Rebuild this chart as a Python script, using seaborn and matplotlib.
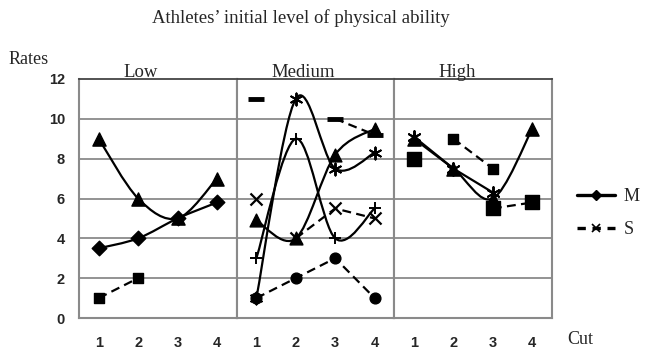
import numpy as np
import pandas as pd
import matplotlib
matplotlib.use("Agg")
import matplotlib.pyplot as plt
from matplotlib.path import Path
from matplotlib.patches import PathPatch
from matplotlib.lines import Line2D
import seaborn as sns

nan = np.nan

# ---------------- data ----------------
cuts = [1, 2, 3, 4]
panels = ["Low", "Medium", "High"]
y_ticks = [0, 2, 4, 6, 8, 10, 12]
legend_labels = ["M", "S"]

low_triangle = [9, 6, 5, 7]
low_M = [3.5, 4, 5, 5.8]
low_square = [1, 2, nan, nan]

med_dash = [11, nan, 10, 9.2]
med_star = [1, 11, 7.5, 8.3]
med_plus = [3, 9, 4, 5.5]
med_triangle = [4.9, 4, 8.2, 9.5]
med_S_point = [6, nan, nan, nan]
med_S = [nan, 4, 5.5, 5]
med_circle = [1, 2, 3, 1]

high_star = [9.1, 7.5, 6.3, nan]
high_triangle = [9, 7.5, 6, 9.5]
high_square_a = [8, nan, nan, nan]
high_square_b = [nan, 9, 7.5, nan]
high_square_c = [nan, nan, 5.5, 5.8]

ASTER = (6, 2, 0)

# (values, marker, marker size, line style, smooth, marker edge width)
series = {
    "Low": [
        (low_triangle, "^", 90, "-", True, 1),
        (low_M, "D", 55, "-", True, 1),
        (low_square, "s", 55, "--", False, 1),
    ],
    "Medium": [
        (med_circle, "o", 60, "--", False, 1),
        (med_star, ASTER, 75, "-", True, 1.4),
        (med_plus, "+", 75, "-", True, 1.4),
        (med_triangle, "^", 85, "-", True, 1),
        (med_S_point, "x", 75, "--", False, 1.6),
        (med_S, "x", 75, "--", False, 1.6),
        (med_dash, "_", 120, "--", False, 3.5),
    ],
    "High": [
        (high_star, ASTER, 85, "-", False, 1.4),
        (high_triangle, "^", 90, "-", True, 1),
        (high_square_a, "s", 95, "--", False, 1),
        (high_square_b, "s", 60, "--", False, 1),
        (high_square_c, "s", 115, "--", False, 1),
    ],
}

# ---------------- style ----------------
sns.set_theme(style="white")
plt.rcParams["font.family"] = ["Liberation Serif", "DejaVu Serif"]
GRID = "#8a8a8a"
LW = 1.6


def segments(xs, ys):
    segs, cur = [], []
    for x, y in zip(xs, ys):
        if np.isnan(y):
            if cur:
                segs.append(cur)
            cur = []
        else:
            cur.append((x, y))
    if cur:
        segs.append(cur)
    return segs


def smooth_path(pts):
    p = np.array(pts, dtype=float)
    n = len(p)
    verts = [p[0]]
    codes = [Path.MOVETO]
    for i in range(n - 1):
        pm = p[i - 1] if i > 0 else p[i]
        pp = p[i + 2] if i + 2 < n else p[i + 1]
        c1 = p[i] + (p[i + 1] - pm) / 6.0
        c2 = p[i + 1] - (pp - p[i]) / 6.0
        verts += [c1, c2, p[i + 1]]
        codes += [Path.CURVE4] * 3
    return Path(verts, codes)


fig = plt.figure(figsize=(6.46, 3.51), dpi=100)
axes = fig.subplots(1, 3, sharey=True)
fig.subplots_adjust(left=79 / 646, right=552 / 646, top=1 - 79 / 351,
                    bottom=1 - 318 / 351, wspace=0)

label_x = {"Low": 0.39, "Medium": 0.42, "High": 0.40}

for ax, panel in zip(axes, panels):
    ax.set_xlim(0.5, 4.5)
    ax.set_ylim(0, 12)
    for yv in y_ticks[1:-1]:
        ax.axhline(yv, color=GRID, lw=1.3, zorder=0)
    for side in ["left", "right", "bottom"]:
        ax.spines[side].set_color(GRID)
        ax.spines[side].set_linewidth(1.5)
    ax.spines["top"].set_color("#444444")
    ax.spines["top"].set_linewidth(1.3)
    ax.set_xticks(cuts)
    ax.set_xticklabels([str(c) for c in cuts], fontsize=10.5, fontweight="bold",
                       family="Liberation Sans")
    ax.tick_params(axis="x", length=0, pad=13)
    ax.tick_params(axis="y", length=0, pad=10)
    ax.text(label_x[panel], 1.01, panel, transform=ax.transAxes, ha="center",
            va="baseline", fontsize=13.5)

    for vals, mk, ms, ls, smooth, mew in series[panel]:
        df = pd.DataFrame({"cut": cuts, "rate": vals}).dropna()
        for seg in segments(cuts, vals):
            if len(seg) < 2:
                continue
            if smooth:
                ax.add_patch(PathPatch(smooth_path(seg), facecolor="none",
                                       edgecolor="black", lw=LW, zorder=2))
            else:
                sd = pd.DataFrame(seg, columns=["cut", "rate"])
                sns.lineplot(data=sd, x="cut", y="rate", ax=ax, color="black",
                             lw=LW, linestyle=ls, zorder=2)
                if ls == "--":
                    ax.lines[-1].set_dashes((4, 2.4))
        if mk in ("x", "+", "_", ASTER):
            sns.scatterplot(data=df, x="cut", y="rate", ax=ax, marker=mk,
                            s=ms, color="black", linewidth=mew, zorder=3)
        else:
            sns.scatterplot(data=df, x="cut", y="rate", ax=ax, marker=mk,
                            s=ms, color="black", edgecolor="black",
                            linewidth=mew, zorder=3)
    ax.set_xlabel("")
    ax.set_ylabel("")
    ax.set_xlim(0.5, 4.5)
    ax.set_ylim(0, 12)

axes[0].set_yticks(y_ticks)
axes[0].set_yticklabels([str(v) for v in y_ticks], fontsize=10.5,
                        fontweight="bold", family="Liberation Sans")

fig.text(301 / 646, 1 - 18 / 351, "Athletes\u2019 initial level of physical ability",
         ha="center", va="center", fontsize=13.5)
fig.text(29 / 646, 1 - 60 / 351, "Rates", ha="center", va="center", fontsize=13)
fig.text(580 / 646, 1 - 340 / 351, "Cut", ha="center", va="center", fontsize=13)

handles = [
    Line2D([], [], color="black", lw=2.4, marker="D", markersize=5),
    Line2D([], [], color="black", lw=2.4, linestyle=(0, (2.5, 2)), marker="x",
           markersize=6, markeredgewidth=1.2),
]
fig.legend(handles, legend_labels, loc="upper left",
           bbox_to_anchor=(570 / 646, 1 - 181 / 351), borderaxespad=0,
           frameon=False, fontsize=13, handlelength=2.1, handletextpad=0.45,
           labelspacing=0.9)

fig.savefig("out.png", dpi=100)
